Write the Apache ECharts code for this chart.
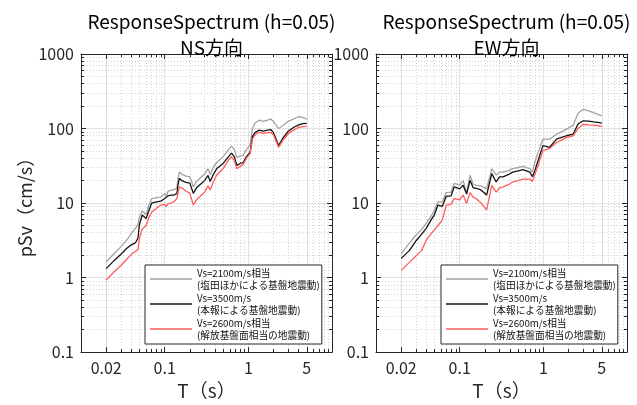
<!DOCTYPE html>
<html><head><meta charset="utf-8">
<script src="https://cdn.jsdelivr.net/npm/echarts@6/dist/echarts.min.js"></script>
<style>html,body{margin:0;padding:0;background:#fff}#c{width:637px;height:405px}</style>
</head><body><div id="c"></div>
<script>
// ---- data ----
const NS_T = [0.02, 0.025, 0.03, 0.035, 0.04, 0.045, 0.048, 0.05, 0.054, 0.06, 0.065, 0.07, 0.08, 0.09, 0.1, 0.105, 0.11, 0.12, 0.13, 0.14, 0.145, 0.15, 0.16, 0.18, 0.2, 0.22, 0.24, 0.27, 0.3, 0.33, 0.35, 0.38, 0.42, 0.5, 0.58, 0.63, 0.68, 0.73, 0.8, 0.87, 0.95, 1.05, 1.12, 1.2, 1.35, 1.5, 1.7, 1.85, 2.0, 2.3, 2.6, 3.0, 3.5, 4.0, 4.5, 5.0];
const NS_GRAY = [1.63, 2.1, 2.6, 3.15, 3.9, 4.6, 5.2, 6.5, 7.8, 7.0, 9.5, 11.5, 11.8, 12, 13.5, 12.5, 14.5, 14.9, 15.2, 16, 22, 26, 24.5, 23, 22.5, 16.5, 19.5, 22, 24.5, 29, 24, 30, 35, 42, 52, 58, 52, 41, 43, 44, 52, 60, 100, 118, 130, 125, 130, 134, 124, 100, 110, 125, 135, 145, 140, 134];
const NS_BLACK = [1.32, 1.7, 2.05, 2.45, 2.75, 2.95, 3.4, 5.2, 6.9, 6.2, 8.0, 10, 10.4, 10.6, 11.5, 11, 12.5, 12.8, 12.8, 13.5, 18, 21.5, 20, 19, 18.5, 13.5, 16, 18, 20, 23.5, 19.5, 24, 29, 34, 42, 46.7, 42, 32, 34, 35, 42, 48, 78, 88, 95, 92, 95, 97, 88, 59, 75, 92, 104, 112, 116, 117];
const NS_RED = [0.93, 1.2, 1.45, 1.75, 2.05, 2.25, 2.4, 3.4, 4.5, 5.0, 6.5, 7.5, 8.5, 9.4, 9.6, 9.0, 9.8, 10, 10.5, 11.5, 14, 16.5, 16, 14.5, 13.5, 9.4, 11, 12.5, 14, 17, 15, 19, 24, 29, 38, 42, 37, 29, 31, 33, 40, 46, 72, 82, 89, 86, 88, 89, 82, 56, 70, 85, 96, 104, 106, 107];

const EW_T = [0.02, 0.025, 0.03, 0.035, 0.04, 0.045, 0.05, 0.055, 0.062, 0.069, 0.079, 0.086, 0.1, 0.11, 0.121, 0.133, 0.145, 0.157, 0.18, 0.21, 0.242, 0.273, 0.3, 0.33, 0.38, 0.43, 0.5, 0.57, 0.69, 0.74, 0.79, 0.85, 0.99, 1.19, 1.44, 1.65, 1.89, 2.27, 2.6, 3.0, 3.5, 3.95, 4.5, 5.0];
const EW_GRAY = [2.08, 2.9, 3.7, 4.4, 5.4, 6.5, 8.0, 10.4, 10.4, 13.8, 14, 18.3, 17.5, 20, 13.8, 23.6, 18, 17.3, 17, 15.5, 28.9, 23.6, 26, 26.1, 27, 29, 30, 31, 29, 26, 35, 45, 72, 72, 84, 90, 98, 110, 160, 181, 172, 163, 155, 148];
const EW_BLACK = [1.81, 2.3, 3.1, 3.8, 4.6, 5.8, 7.0, 9.4, 9.0, 12.3, 12.5, 16.5, 15.5, 17.3, 13.2, 20.2, 16, 15.8, 15, 12.8, 24.8, 19.2, 22.5, 22.4, 24, 26, 27, 28, 26, 22.5, 27, 35, 59, 56, 72, 76, 80, 84, 115, 127, 126, 123, 121, 118];
const EW_RED = [1.25, 1.6, 1.95, 2.3, 3.2, 3.8, 4.4, 5.0, 5.9, 9.4, 9.6, 11.5, 11, 12.8, 9.9, 13.8, 12, 11.5, 10, 8.1, 17.3, 14, 16, 16.5, 17.5, 19.2, 20, 21, 21, 19.5, 24, 30, 50.6, 54, 65, 70, 76, 80, 100, 114, 112, 111, 109, 107];

const X_LABELS = [0.02, 0.1, 1, 5];
const SERIES_NAMES = ['Vs=2100m/s相当', 'Vs=3500m/s', 'Vs=2600m/s相当'];
const SERIES_SUB = ['(塩田ほかによる基盤地震動)', '(本報による基盤地震動)', '(解放基盤面相当の地震動)'];
const PANEL_TITLES = ['ResponseSpectrum (h=0.05)\nNS方向', 'ResponseSpectrum (h=0.05)\nEW方向'];
const X_NAME = 'T（s）';
const Y_NAME = 'pSv（cm/s）';

// ---- styling ----
const FONT = '"Noto Sans CJK JP", "Noto Sans", sans-serif';
const AX = '#262626';
const COLORS = ['#a3a3a3', '#141414', '#ff5c5c'];
const GRIDS = [{left: 81, top: 54, width: 251, height: 301}, {left: 376, top: 54, width: 251, height: 301}];
const fmt = v => String(+(+v).toPrecision(6));

function xAxisPair(gi) {
  const base = {
    type: 'log', logBase: 10, min: 0.01, max: 10, gridIndex: gi,
    axisLine: {show: true, onZero: false, lineStyle: {color: AX, width: 1}},
    axisTick: {show: true, inside: true, length: 5, customValues: X_LABELS, lineStyle: {color: AX}},
    minorTick: {show: true, splitNumber: 9, length: 3, lineStyle: {color: AX}}
  };
  return [
    Object.assign({}, base, {
      position: 'bottom',
      name: X_NAME, nameLocation: 'middle', nameGap: 28,
      nameTextStyle: {fontSize: 19, color: AX, fontFamily: FONT},
      axisLabel: {customValues: X_LABELS, margin: 8, fontSize: 16, color: AX, fontFamily: FONT, formatter: fmt},
      splitLine: {show: true, lineStyle: {color: '#e2e2e2', width: 1}},
      minorSplitLine: {show: true, lineStyle: {color: '#d4d4d4', type: [1, 2], width: 1}}
    }),
    Object.assign({}, base, {
      position: 'top',
      axisLabel: {show: false}, splitLine: {show: false}, minorSplitLine: {show: false}
    })
  ];
}
function yAxisPair(gi) {
  const base = {
    type: 'log', logBase: 10, min: 0.1, max: 1000, gridIndex: gi,
    axisLine: {show: true, onZero: false, lineStyle: {color: AX, width: 1}},
    axisTick: {show: true, inside: true, length: 5, lineStyle: {color: AX}},
    minorTick: {show: true, splitNumber: 9, length: 3, lineStyle: {color: AX}}
  };
  return [
    Object.assign({}, base, {
      position: 'left',
      name: gi === 0 ? Y_NAME : '', nameLocation: 'middle', nameGap: 37,
      nameTextStyle: {fontSize: 18, color: AX, fontFamily: FONT},
      axisLabel: {margin: 7, fontSize: 16, color: AX, fontFamily: FONT, formatter: fmt},
      splitLine: {show: true, lineStyle: {color: '#e2e2e2', width: 1}},
      minorSplitLine: {show: true, lineStyle: {color: '#d4d4d4', type: [1, 2], width: 1}}
    }),
    Object.assign({}, base, {
      position: 'right',
      axisLabel: {show: false}, splitLine: {show: false}, minorSplitLine: {show: false}
    })
  ];
}

const zip = (t, v) => t.map((x, i) => [x, v[i]]);
const panels = [[NS_T, NS_GRAY, NS_BLACK, NS_RED], [EW_T, EW_GRAY, EW_BLACK, EW_RED]];
const series = [];
panels.forEach((p, gi) => {
  [p[1], p[2], p[3]].forEach((vals, k) => {
    series.push({
      type: 'line', name: SERIES_NAMES[k], xAxisIndex: gi * 2, yAxisIndex: gi * 2,
      data: zip(p[0], vals), showSymbol: false, symbol: 'none', z: 3 + k,
      lineStyle: {color: COLORS[k], width: 1.3}, itemStyle: {color: COLORS[k]}
    });
  });
});

const legendBase = {
  orient: 'vertical', top: 265, icon: 'rect', itemWidth: 42, itemHeight: 1.6, itemGap: 1,
  padding: [2, 2, 3, 5], backgroundColor: '#fff', borderColor: AX, borderWidth: 1,
  borderRadius: 0, data: SERIES_NAMES, selectedMode: false,
  textStyle: {fontSize: 9.7, lineHeight: 12, color: '#111', fontFamily: FONT},
  formatter: name => name + '\n' + SERIES_SUB[SERIES_NAMES.indexOf(name)]
};

const option = {
  animation: false,
  backgroundColor: '#fff',
  title: PANEL_TITLES.map((t, i) => ({
    text: t, left: GRIDS[i].left + GRIDS[i].width / 2, top: 4, textAlign: 'center',
    textStyle: {fontSize: 19, lineHeight: 26, fontWeight: 'normal', color: '#000', fontFamily: FONT}
  })),
  grid: GRIDS.map(g => Object.assign({containLabel: false}, g)),
  xAxis: [].concat(xAxisPair(0), xAxisPair(1)),
  yAxis: [].concat(yAxisPair(0), yAxisPair(1)),
  legend: [Object.assign({left: 145}, legendBase), Object.assign({left: 441}, legendBase)],
  series: series
};
const chart = echarts.init(document.getElementById('c'), null, {renderer: 'canvas'});
chart.setOption(option);
</script></body></html>
